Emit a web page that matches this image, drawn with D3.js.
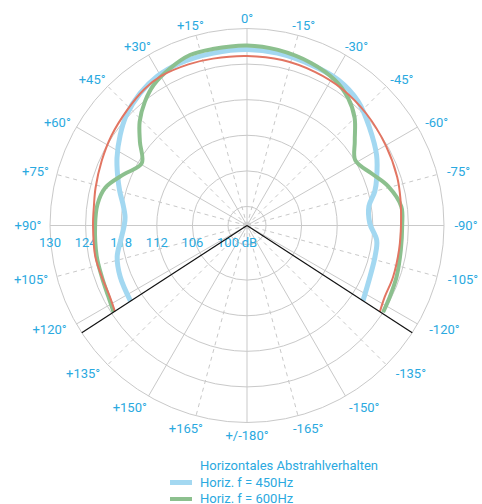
<html>
<head>
<script src="https://d3js.org/d3.v7.min.js"></script>
<style>
  body { margin: 0; background: #fff; }
  text { font-family: Roboto, "DejaVu Sans", sans-serif; font-size: 13px; fill: #2aa9e0; }
</style>
</head>
<body>
<script>
var width = 482, height = 504;
var cx = 247, cy = 225.5;

// dB rings and angle ticks (positive angles to the left)
var ringDb = [100, 106, 112, 118, 124, 130];
var ringLabels = ["130", "124", "118", "112", "106", "100"];
var angleTicks = [0, 15, 30, 45, 60, 75, 90, 105, 120, 135, 150, 165, 180,
                  -15, -30, -45, -60, -75, -90, -105, -120, -135, -150, -165];
var gridAngles = [0, 15, 30, 45, 60, 75, 90, 105, 120, 135, 150, 165, 180,
                  195, 210, 225, 240, 255, 270, 285, 300, 315, 330, 345];
var edgeAngles = [123, -123];

// Horiz. f = 450Hz
var blueAngles = [-123, -112.5, -103.5, -96.5, -89, -81, -75, -70, -61.5, -51.5, -42, -32, -22, -10, 0,
                  11, 22.5, 31, 39, 47.5, 54.5, 62.5, 68.5, 75, 80, 86, 90, 96.5, 103.5, 112, 123];
var blueDb = [120.1, 119.25, 119.0, 118.8, 117.5, 117.6, 119.1, 120.05, 121.65, 123.2, 124.85, 125.75, 125.95, 126.3, 126.45,
              126.4, 126.4, 126.15, 125.45, 124.35, 123.05, 121.5, 120.25, 119.0, 118.05, 117.4, 117.5, 118.2, 119.3, 119.85, 120.2];

// Horiz. f = 600Hz
var greenAngles = [-122.5, -116.5, -109, -99, -90, -83, -74.5, -67.5, -59, -52, -45, -38.5, -31, -21.5, -10, 0,
                   11, 18.5, 26, 33.5, 39.5, 46, 52, 59.5, 67.5, 75, 82, 90, 101.5, 109.5, 117, 123];
var greenDb = [124.0, 123.7, 123.45, 123.05, 122.95, 123.0, 121.5, 119.6, 118.1, 119.85, 122.45, 124.2, 125.45, 126.25, 126.85, 127.15,
               127.1, 127.1, 126.3, 125.25, 123.85, 121.95, 119.7, 117.4, 119.3, 121.5, 122.25, 122.4, 122.65, 122.75, 123.05, 123.6];

// third curve (red)
var redAngles = [-123, -117.5, -109.5, -99, -90, -80, -72, -60, -47, -35, -24, -12, 0,
                 11.5, 20, 30, 37, 46, 56.5, 66, 76, 83, 90, 101.5, 109.5, 117.5, 123];
var redDb = [123.5, 122.95, 122.9, 122.75, 122.75, 123.05, 123.4, 123.8, 124.35, 124.85, 125.1, 125.3, 125.35,
             125.5, 125.7, 125.85, 125.55, 124.85, 124.2, 123.6, 123.1, 122.8, 122.75, 122.9, 122.75, 122.85, 123.35];

var legendTitle = "Horizontales Abstrahlverhalten";
var seriesNames = ["Horiz. f = 450Hz", "Horiz. f = 600Hz", "Horiz. f = 800Hz"];

var series = [
  {name: seriesNames[0], angles: blueAngles, db: blueDb, color: "#a3d8f1", w: 5},
  {name: seriesNames[1], angles: greenAngles, db: greenDb, color: "#8cc08e", w: 4},
  {name: seriesNames[2], angles: redAngles, db: redDb, color: "#e27562", w: 2}
];

var svg = d3.select("body").append("svg")
    .attr("width", width)
    .attr("height", height);

var g = svg.append("g")
    .attr("transform", "translate(" + cx + "," + cy + ")");

var r = d3.scaleLinear().domain([100, 130]).range([19, 197]);
var rad = d => d * Math.PI / 180;
var px = (a, rr) => -rr * Math.sin(rad(a));
var py = (a, rr) => -rr * Math.cos(rad(a));

// rings
g.selectAll(".ring").data(ringDb).enter()
  .append("circle")
    .attr("r", d => r(d))
    .attr("fill", "none")
    .attr("stroke", "#c9c9c9")
    .attr("stroke-width", 1);

// spokes
g.selectAll(".spoke").data(gridAngles).enter()
  .append("line")
    .attr("x1", 0).attr("y1", 0)
    .attr("x2", d => px(d, r(130)))
    .attr("y2", d => py(d, r(130)))
    .attr("stroke", "#c9c9c9")
    .attr("stroke-width", 1)
    .attr("stroke-dasharray", d => d % 30 == 0 ? null : "4,4");

g.append("circle").attr("r", 3.5).attr("fill", "#cfcfcf");

// dB labels on the left horizontal
g.selectAll(".dbl").data(ringLabels).enter()
  .append("text")
    .attr("x", d => -r(+d))
    .attr("y", 21)
    .attr("text-anchor", "middle")
    .text(d => d);
g.append("text").attr("x", 2.5).attr("y", 21).attr("text-anchor", "middle").text("dB");

// angle labels, a bit wider out on the lower half
g.selectAll(".al").data(angleTicks).enter()
  .append("text")
    .attr("text-anchor", "middle")
    .attr("x", d => {
      var c = Math.cos(rad(d));
      return px(d, 219 - Math.min(0, c) * 18);
    })
    .attr("y", d => {
      var c = Math.cos(rad(d));
      return py(d, 207 - Math.min(0, c) * 3) + 4.5;
    })
    .text(d => d == 180 ? "+/-180°" : (d > 0 ? "+" + d + "°" : d + "°"));

// curves
var line = d3.lineRadial()
    .angle(d => -rad(d[0]))
    .radius(d => r(d[1]))
    .curve(d3.curveCatmullRom.alpha(0.5));

series.forEach(function(s) {
  g.append("path")
    .datum(s.angles.map((a, i) => [a, s.db[i]]))
    .attr("d", line)
    .attr("fill", "none")
    .attr("stroke", s.color)
    .attr("stroke-width", s.w)
    .attr("stroke-linejoin", "round");
});

// opening edges
g.selectAll(".edge").data(edgeAngles).enter()
  .append("line")
    .attr("x1", 0).attr("y1", 0)
    .attr("x2", d => px(d, r(130)))
    .attr("y2", d => py(d, r(130)))
    .attr("stroke", "#111")
    .attr("stroke-width", 1.2);

// legend
var lg = svg.append("g").attr("transform", "translate(200,470)");
lg.append("text").attr("x", 0).attr("y", 0).text(legendTitle);
var item = lg.selectAll(".item").data(series).enter()
  .append("g")
    .attr("transform", (d, i) => "translate(0," + (16.5 * (i + 1)) + ")");
item.append("line")
    .attr("x1", -30).attr("x2", -8)
    .attr("y1", -4).attr("y2", -4)
    .attr("stroke", d => d.color)
    .attr("stroke-width", d => d.w);
item.append("text").attr("x", 0).attr("y", 0).text(d => d.name);
</script>
</body>
</html>
